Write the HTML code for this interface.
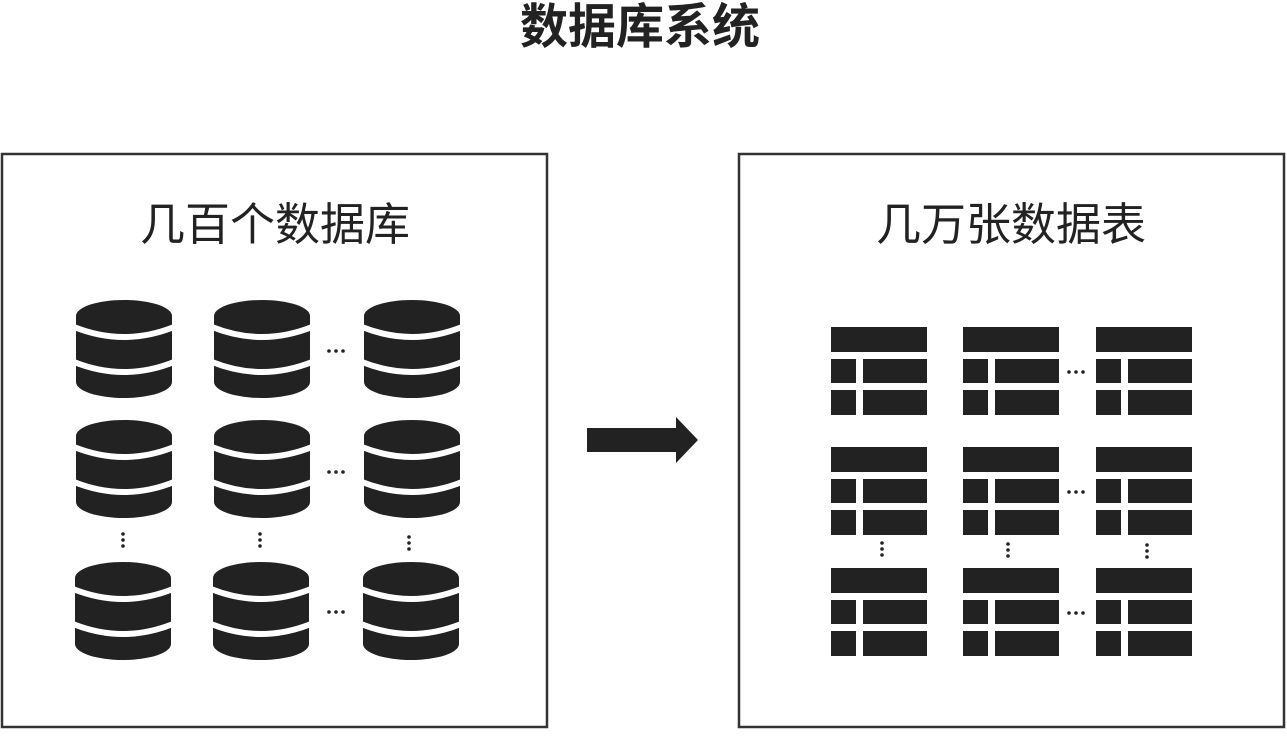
<!DOCTYPE html>
<html><head><meta charset="utf-8"><style>
html,body{margin:0;padding:0;background:#fff;}
body{width:1287px;height:731px;overflow:hidden;position:relative;}
</style></head><body>
<svg width="1287" height="731" viewBox="0 0 1287 731" xmlns="http://www.w3.org/2000/svg">
<defs>
<g id="db">
<ellipse cx="48" cy="16" rx="48" ry="16" fill="#222"/>
<rect x="0" y="16" width="96" height="66" fill="#222"/>
<ellipse cx="48" cy="82" rx="48" ry="16" fill="#222"/>
<path d="M-2,27 Q48,47 98,27" stroke="#fff" stroke-width="6" fill="none"/>
<path d="M-2,62 Q48,82 98,62" stroke="#fff" stroke-width="6" fill="none"/>
</g>
<g id="tb" fill="#222">
<rect x="0" y="0" width="96" height="25"/>
<rect x="0" y="32" width="25" height="24"/>
<rect x="32" y="32" width="64" height="24"/>
<rect x="0" y="63" width="25" height="25"/>
<rect x="32" y="63" width="64" height="25"/>
</g>
<g id="hd" fill="#222"><circle cx="2" cy="0" r="1.8"/><circle cx="9" cy="0" r="1.8"/><circle cx="16" cy="0" r="1.8"/></g>
<g id="vd" fill="#222"><circle cx="0" cy="2" r="1.8"/><circle cx="0" cy="8" r="1.8"/><circle cx="0" cy="14" r="1.8"/></g>
</defs>
<text x="640" y="43" text-anchor="middle" font-family="Liberation Sans, Noto Sans CJK SC, sans-serif" font-size="48" font-weight="bold" fill="#222">数据库系统</text>
<rect x="2" y="154" width="545" height="573" fill="none" stroke="#333" stroke-width="2.5"/>
<rect x="739" y="154" width="545" height="573" fill="none" stroke="#333" stroke-width="2.5"/>
<text x="275" y="240" text-anchor="middle" font-family="Liberation Sans, Noto Sans CJK SC, sans-serif" font-size="45" fill="#222">几百个数据库</text>
<text x="1011" y="240" text-anchor="middle" font-family="Liberation Sans, Noto Sans CJK SC, sans-serif" font-size="45" fill="#222">几万张数据表</text>
<use href="#db" x="76" y="300"/><use href="#db" x="214" y="300"/><use href="#db" x="364" y="300"/>
<use href="#db" x="76" y="420"/><use href="#db" x="214" y="420"/><use href="#db" x="364" y="420"/>
<use href="#db" x="75" y="562"/><use href="#db" x="213" y="562"/><use href="#db" x="363" y="562"/>
<use href="#hd" x="327" y="351"/><use href="#hd" x="327" y="472"/><use href="#hd" x="327" y="612"/>
<use href="#vd" x="123" y="532"/><use href="#vd" x="260" y="532"/><use href="#vd" x="409" y="535"/>
<polygon points="587,428 676,428 676,417 698,440 676,463 676,452 587,452" fill="#222"/>
<use href="#tb" x="831" y="327"/><use href="#tb" x="963" y="327"/><use href="#tb" x="1096" y="327"/>
<use href="#tb" x="831" y="447"/><use href="#tb" x="963" y="447"/><use href="#tb" x="1096" y="447"/>
<use href="#tb" x="831" y="568"/><use href="#tb" x="963" y="568"/><use href="#tb" x="1096" y="568"/>
<use href="#hd" x="1067" y="372"/><use href="#hd" x="1067" y="492"/><use href="#hd" x="1067" y="613"/>
<use href="#vd" x="882" y="541"/><use href="#vd" x="1008" y="542"/><use href="#vd" x="1147" y="543"/>
</svg>
</body></html>
